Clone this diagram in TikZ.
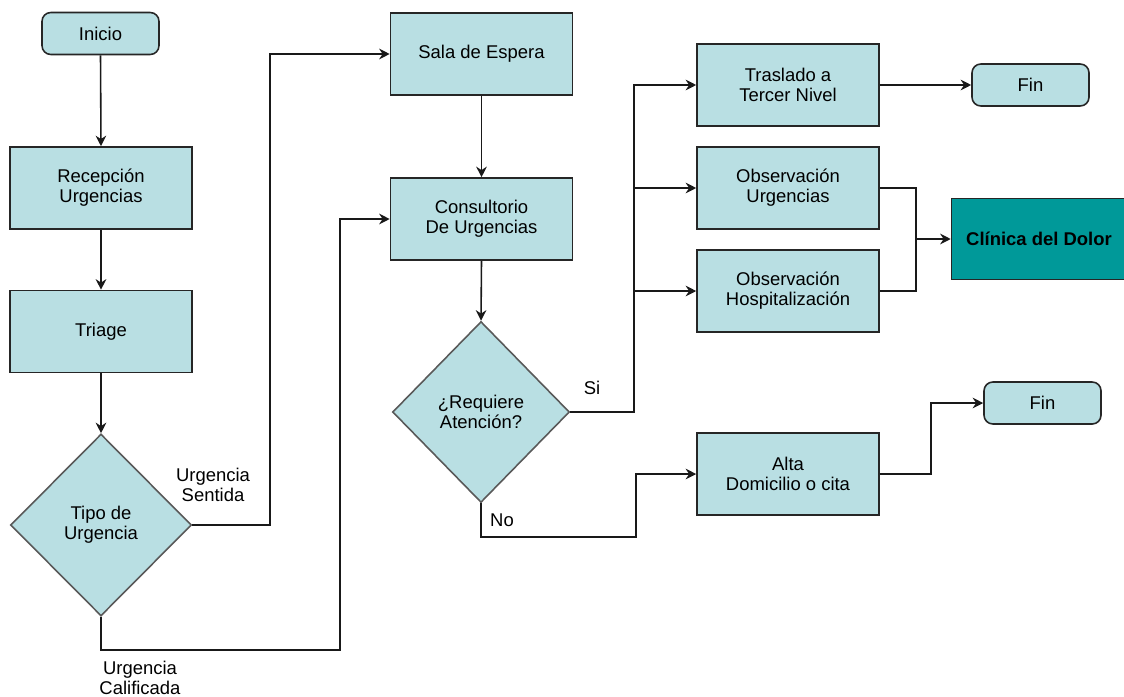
\documentclass[tikz,border=0pt]{standalone}
\usepackage{fontspec}
\setmainfont{Liberation Sans}
\usetikzlibrary{arrows.meta}
\usetikzlibrary{shapes.geometric}
\definecolor{boxfill}{RGB}{185,223,227}
\definecolor{clinicfill}{RGB}{0,153,153}

\begin{document}
\begin{tikzpicture}[x=0.02cm,y=-0.02cm,
        every node/.style={font=\fontsize{10.5}{11.5}\selectfont,align=center},
        proc/.style={draw=black!85,fill=boxfill,line width=0.9pt,
            minimum width=3.64cm,minimum height=1.64cm},
        term/.style={draw=black!85,fill=boxfill,line width=0.9pt,
            rounded corners=5pt,minimum width=2.34cm,minimum height=0.84cm},
        decision/.style={diamond,draw=black!65,fill=boxfill,line width=0.9pt,
            inner sep=0pt,minimum width=3.62cm,minimum height=3.64cm},
        flow/.style={draw=black!90,line width=0.9pt,-{Stealth[length=6pt,width=6pt]}}]
    \useasboundingbox (0,0) rectangle (1124,696);

    % left column
    \node[term]     (inicio)   at (100.5,33.5) {Inicio};
    \node[proc]     (recep)    at (101,188)    {Recepción\\Urgencias};
    \node[proc]     (triage)   at (101,331.5)  {Triage};
    \node[decision] (tipo)     at (101,525)    {Tipo de\\Urgencia};

    % middle column
    \node[proc]     (sala)     at (481.5,54)   {Sala de Espera};
    \node[proc]     (consul)   at (481.5,219)  {Consultorio\\De Urgencias};
    \node[decision,minimum width=3.54cm,minimum height=3.62cm]
                    (requiere) at (481,412)    {¿Requiere\\Atención?};

    % right column
    \node[proc]     (traslado) at (788,85)     {Traslado a\\Tercer Nivel};
    \node[proc]     (obsurg)   at (788,188)    {Observación\\Urgencias};
    \node[proc]     (obshosp)  at (788,291)    {Observación\\Hospitalización};
    \node[proc]     (alta)     at (788,474)    {Alta\\Domicilio o cita};
    \node[term]     (fin1)     at (1030.5,85)  {Fin};
    \node[term]     (fin2)     at (1042.5,403) {Fin};
    \node[proc,fill=clinicfill,minimum width=3.5cm,minimum height=1.62cm,
          font=\fontsize{10.5}{11.5}\selectfont\bfseries]
                    (clinica)  at (1039,239)   {Clínica del Dolor};

    % bend points
    \coordinate (sentbend) at (270,300);
    \coordinate (calbend)  at (340,650);
    \coordinate (sibend)   at (634,85);
    \coordinate (nobend)   at (636,537);
    \coordinate (merge)    at (916,239);
    \coordinate (altabend) at (931,440);

    % connectors
    \draw[flow] (inicio.south) -- (recep.north);
    \draw[flow] (recep.south) -- (triage.north);
    \draw[flow] (triage.south) -- (tipo.north);
    \draw[flow] (tipo.east) -| (sentbend) |- (sala.west);
    \draw[flow] (tipo.south) |- (calbend) |- (consul.west);
    \draw[flow] (sala.south) -- (consul.north);
    \draw[flow] (consul.south) -- (requiere.north);
    \draw[flow] (requiere.east) -| (sibend) |- (traslado.west);
    \draw[flow] (sibend |- obsurg.west) -- (obsurg.west);
    \draw[flow] (sibend |- obshosp.west) -- (obshosp.west);
    \draw[flow] (requiere.south) |- (nobend) |- (alta.west);
    \draw[flow] (traslado.east) -- (fin1.west);
    \draw[draw=black!90,line width=0.9pt] (obsurg.east) -| (merge) |- (obshosp.east);
    \draw[flow] (merge) -- (clinica.west);
    \draw[flow] (alta.east) -| (altabend) |- (fin2.west);

    % labels
    \node (lblsent) at (213,485) {Urgencia\\Sentida};
    \node (lblcal)  at (140,678) {Urgencia\\Calificada};
    \node (lblsi)   at (592,388) {Si};
    \node (lblno)   at (502,520) {No};
\end{tikzpicture}
\end{document}
